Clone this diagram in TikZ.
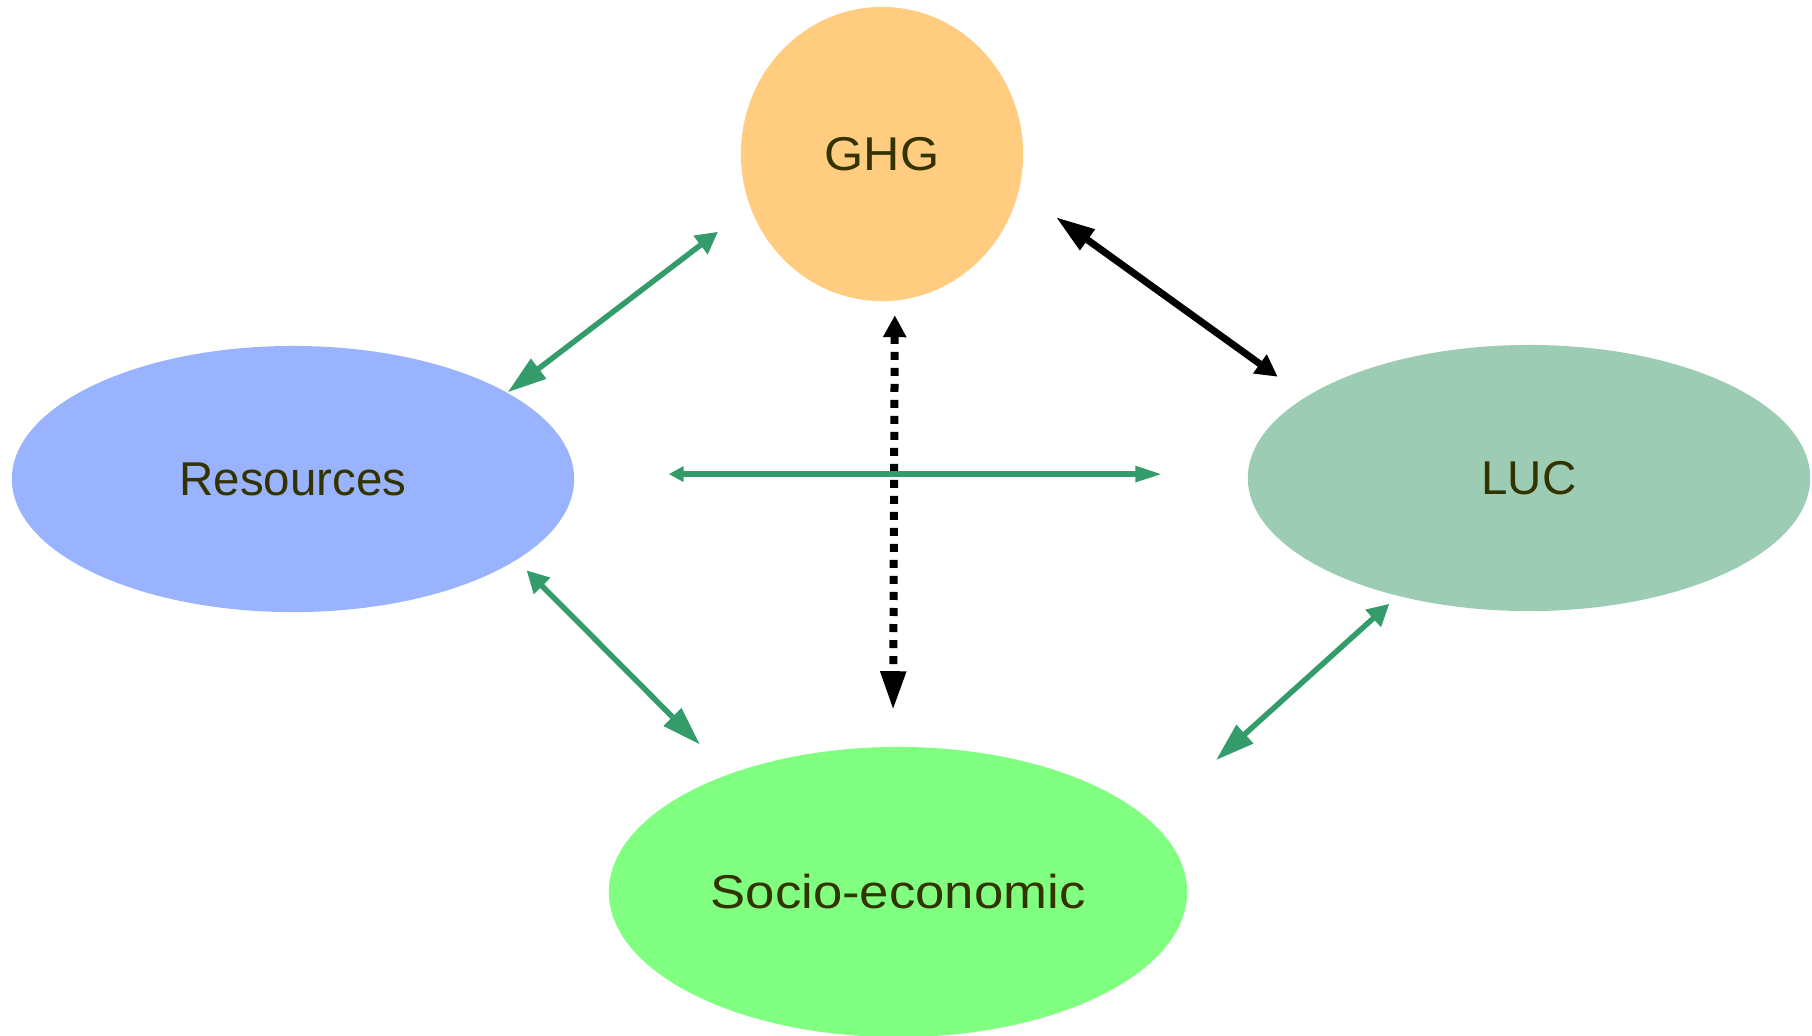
\documentclass[tikz,border=0pt]{standalone}
\usepackage{fontspec}
\setmainfont{Liberation Sans}
\usetikzlibrary{shapes.geometric,arrows.meta}
\definecolor{ghgfill}{RGB}{255,204,128}
\definecolor{resfill}{RGB}{153,179,255}
\definecolor{lucfill}{RGB}{156,204,179}
\definecolor{sociofill}{RGB}{128,255,128}
\definecolor{linkgreen}{RGB}{52,155,106}
\definecolor{labeltext}{RGB}{51,51,0}

\begin{document}
\begin{tikzpicture}[x=0.01cm,y=-0.01cm,
        blob/.style={ellipse,inner sep=0pt,text=labeltext,font=\fontsize{13.5}{16}\selectfont},
        glink/.style={draw=linkgreen,line width=0.055cm},
        tipS/.tip={Triangle[length=0.22cm,width=0.22cm]},
        tipL/.tip={Triangle[length=0.39cm,width=0.24cm]},
        hS/.tip={Triangle[length=0.15cm,width=0.15cm]},
        hL/.tip={Triangle[length=0.27cm,width=0.15cm]}]
        \useasboundingbox (0,0) rectangle (1812,1035);
        \node[blob,fill=ghgfill,minimum width=2.82cm,minimum height=2.94cm] (ghg) at (882,154) {\scalebox{1.06}[1]{GHG}};
        \node[blob,fill=resfill,minimum width=5.62cm,minimum height=2.66cm] (res) at (293,479) {Resources};
        \node[blob,fill=lucfill,minimum width=5.62cm,minimum height=2.66cm] (luc) at (1529,478) {LUC};
        \node[blob,fill=sociofill,minimum width=5.78cm,minimum height=2.9cm] (socio) at (898,892) {\scalebox{1.11}[1]{Socio-economic}};
        \draw[glink,tipL-tipS,shorten >=0.40cm](res.22)--(ghg.202);
        \draw[black,line width=0.07cm,tipL-tipS,shorten <=0.45cm,shorten >=0.34cm](ghg.-15)--(luc.160);
        \draw[black,line width=0.08cm,dash pattern=on 0.08cm off 0.08cm,tipS-tipL,shorten <=0.14cm,shorten >=0.36cm](ghg.-85)--(socio.92);
        \draw[glink,hS-hL,shorten <=0.94cm,shorten >=0.85cm](res.1)--(res.1 -| luc.179);
        \draw[glink,tipS-tipL,shorten <=0.14cm,shorten >=0.41cm](res.-20)--(socio.145);
        \draw[glink,tipL-tipS,shorten <=0.89cm,shorten >=0.11cm](socio.16)--(luc.222);
    \end{tikzpicture}
\end{document}
